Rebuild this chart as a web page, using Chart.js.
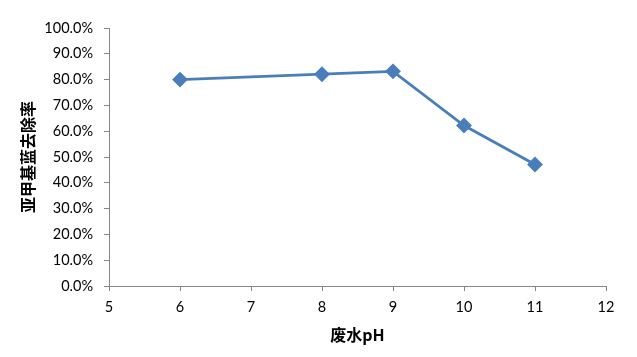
<!DOCTYPE html>
<html><head><meta charset="utf-8">
<script src="https://cdn.jsdelivr.net/npm/chart.js@4/dist/chart.umd.min.js"></script>
<style>html,body{margin:0;padding:0;background:#fff}#wrap{width:637px;height:357px}</style>
</head><body><div id="wrap"><canvas id="c" width="637" height="357"></canvas></div>
<script>
const phValues = [6, 8, 9, 10, 11];
const removalRates = [0.80, 0.821, 0.832, 0.622, 0.471];
const xTicks = [5, 6, 7, 8, 9, 10, 11, 12];
const yTitle = '亚甲基蓝去除率';
const xTitle = '废水pH';

const points = phValues.map((x, i) => ({x, y: removalRates[i]}));
const axisColor = '#868686';
const tickFont = {family: 'Lato, "Liberation Sans", sans-serif', size: 14.5};

new Chart(document.getElementById('c'), {
  type: 'scatter',
  data: {datasets: [{
    data: points, showLine: true,
    borderColor: '#4A7EBB', backgroundColor: '#4A7EBB',
    borderWidth: 2.75, pointStyle: 'rectRot', pointRadius: 6,
    pointBorderColor: '#4A7EBB', pointBackgroundColor: '#4A7EBB'
  }]},
  options: {
    responsive: false, animation: false,
    layout: {padding: {left: 0, right: 31, top: 28, bottom: 0}},
    plugins: {legend: {display: false}, tooltip: {enabled: false}},
    scales: {
      x: {
        type: 'linear', min: xTicks[0], max: xTicks[xTicks.length - 1],
        afterBuildTicks: s => { s.ticks = xTicks.map(v => ({value: v})); },
        afterFit: s => { s.height = 71; },
        grid: {drawOnChartArea: false, tickLength: 5, color: axisColor},
        border: {color: axisColor, width: 1},
        ticks: {color: '#000', font: tickFont, padding: 8, maxRotation: 0},
        title: {display: true, text: xTitle, color: '#000',
          font: {family: '"Noto Sans CJK SC", sans-serif', size: 16, weight: 'bold'},
          padding: {top: 0, bottom: 12}}
      },
      y: {
        min: 0, max: 1,
        afterFit: s => { s.width = 109; },
        ticks: {stepSize: 0.1, color: '#000', font: tickFont, padding: 11,
          callback: v => (v * 100).toFixed(1) + '%'},
        grid: {drawOnChartArea: false, tickLength: 5, color: axisColor},
        border: {color: axisColor, width: 1},
        title: {display: true, text: yTitle, color: '#000',
          font: {family: '"Noto Sans CJK SC", sans-serif', size: 16, weight: 'bold'},
          padding: {top: 18, bottom: 0}}
      }
    }
  }
});
</script></body></html>
